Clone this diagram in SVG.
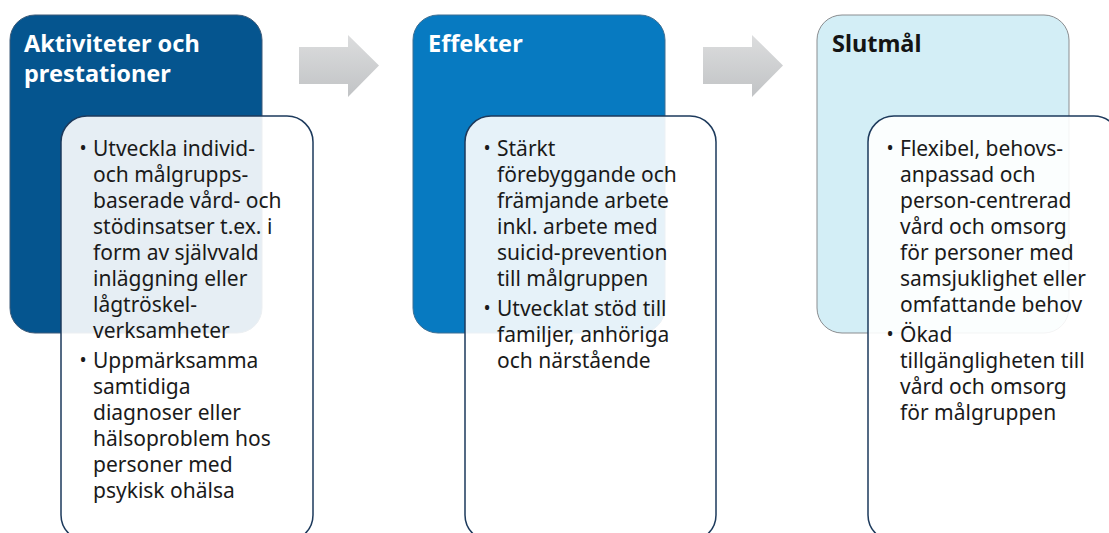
<svg xmlns="http://www.w3.org/2000/svg" width="1109" height="533" viewBox="0 0 1109 533">
  <defs>
    <linearGradient id="arrowFill" x1="0" y1="0" x2="0" y2="1">
      <stop offset="0" stop-color="#dcddde"/>
      <stop offset="1" stop-color="#c1c3c5"/>
    </linearGradient>
    <style>
      .stage { stroke-width: 1; }
      .card { fill: #ffffff; fill-opacity: 0.9; stroke: #1d3a5c; stroke-width: 1.5; }
      .title { font-family: "Noto Sans", "Open Sans", sans-serif; font-size: 23.5px; font-weight: 700; }
      .body { font-family: "Noto Sans", "Open Sans", sans-serif; font-size: 21px; fill: #1a1a1a; }
      .dot { font-size: 19px; }
      .arrow { fill: url(#arrowFill); }
    </style>
  </defs>

  <!-- chevron arrows between stages -->
  <g id="connectors">
    <path class="arrow" d="M299,47 H348 V35 L379,65.5 L348,97 V84 H299 Z"/>
    <path class="arrow" d="M703,47 H752 V35 L783,65.5 L752,97 V84 H703 Z"/>
  </g>

  <!-- stage 1 -->
  <g id="stage-aktiviteter">
    <rect class="stage" x="10" y="15" width="252" height="318" rx="25" fill="#05558f" stroke="#3c5a78"/>
    <text class="title" fill="#ffffff">
      <tspan x="24" y="52">Aktiviteter och</tspan>
      <tspan x="24" y="82">prestationer</tspan>
    </text>
    <rect class="card" x="61" y="116" width="252" height="425" rx="26"/>
    <text class="body">
      <tspan class="dot" x="79.5" y="155">•</tspan><tspan x="93" y="156">Utveckla individ-</tspan>
      <tspan x="93" y="182">och målgrupps-</tspan>
      <tspan x="93" y="208">baserade vård- och</tspan>
      <tspan x="93" y="234">stödinsatser t.ex. i</tspan>
      <tspan x="93" y="260">form av självvald</tspan>
      <tspan x="93" y="286">inläggning eller</tspan>
      <tspan x="93" y="312">lågtröskel-</tspan>
      <tspan x="93" y="338">verksamheter</tspan>
      <tspan class="dot" x="79.5" y="367">•</tspan><tspan x="93" y="368">Uppmärksamma</tspan>
      <tspan x="93" y="394">samtidiga</tspan>
      <tspan x="93" y="420">diagnoser eller</tspan>
      <tspan x="93" y="446">hälsoproblem hos</tspan>
      <tspan x="93" y="472">personer med</tspan>
      <tspan x="93" y="498">psykisk ohälsa</tspan>
    </text>
  </g>

  <!-- stage 2 -->
  <g id="stage-effekter">
    <rect class="stage" x="413" y="15" width="252" height="318" rx="25" fill="#077ac1" stroke="#3d6f93"/>
    <text class="title" fill="#ffffff">
      <tspan x="428" y="52">Effekter</tspan>
    </text>
    <rect class="card" x="465" y="116" width="251" height="425" rx="26"/>
    <text class="body">
      <tspan class="dot" x="483.5" y="155">•</tspan><tspan x="497" y="156">Stärkt</tspan>
      <tspan x="497" y="182">förebyggande och</tspan>
      <tspan x="497" y="208">främjande arbete</tspan>
      <tspan x="497" y="234">inkl. arbete med</tspan>
      <tspan x="497" y="260">suicid-prevention</tspan>
      <tspan x="497" y="286">till målgruppen</tspan>
      <tspan class="dot" x="483.5" y="315">•</tspan><tspan x="497" y="316">Utvecklat stöd till</tspan>
      <tspan x="497" y="342">familjer, anhöriga</tspan>
      <tspan x="497" y="368">och närstående</tspan>
    </text>
  </g>

  <!-- stage 3 -->
  <g id="stage-slutmal">
    <rect class="stage" x="817" y="15" width="252" height="318" rx="25" fill="#d3eef6" stroke="#8a8d90"/>
    <text class="title" fill="#141414">
      <tspan x="832" y="52">Slutmål</tspan>
    </text>
    <rect class="card" x="868" y="116" width="252" height="425" rx="26"/>
    <text class="body">
      <tspan class="dot" x="886.5" y="155">•</tspan><tspan x="900" y="156">Flexibel, behovs-</tspan>
      <tspan x="900" y="182">anpassad och</tspan>
      <tspan x="900" y="208">person-centrerad</tspan>
      <tspan x="900" y="234">vård och omsorg</tspan>
      <tspan x="900" y="260">för personer med</tspan>
      <tspan x="900" y="286">samsjuklighet eller</tspan>
      <tspan x="900" y="312">omfattande behov</tspan>
      <tspan class="dot" x="886.5" y="341">•</tspan><tspan x="900" y="342">Ökad</tspan>
      <tspan x="900" y="368">tillgängligheten till</tspan>
      <tspan x="900" y="394">vård och omsorg</tspan>
      <tspan x="900" y="420">för målgruppen</tspan>
    </text>
  </g>
</svg>
